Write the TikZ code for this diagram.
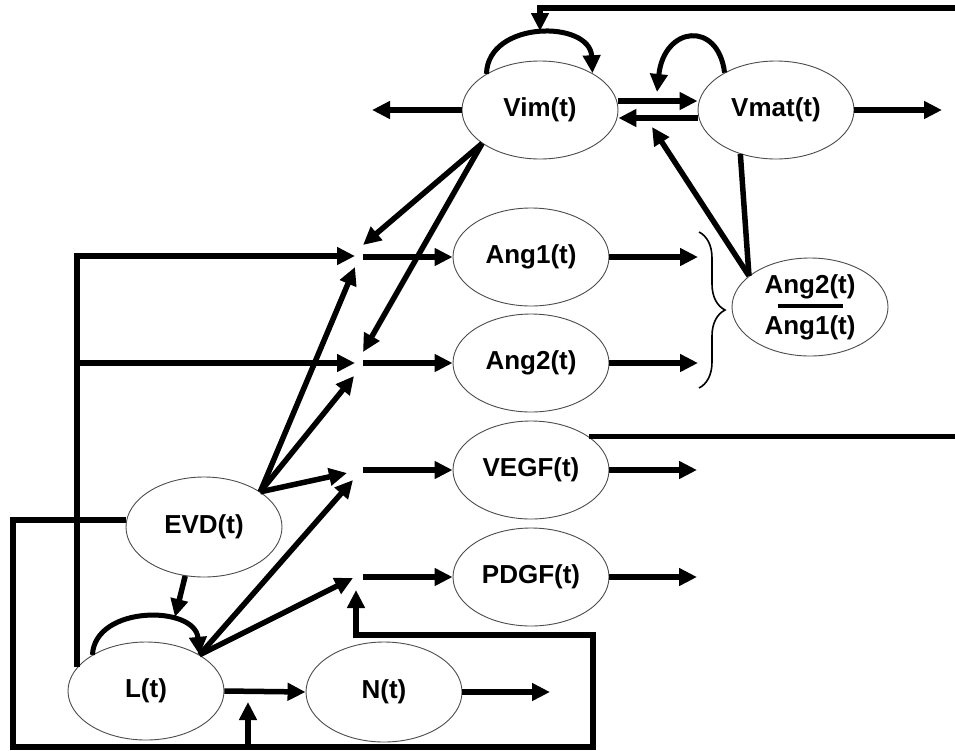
\documentclass[tikz,border=0pt]{standalone}
\usepackage{fontspec}
\setmainfont{Liberation Sans}
\usetikzlibrary{arrows.meta,shapes.geometric,decorations.pathreplacing,calc}
\begin{document}
\begin{tikzpicture}[x=1pt,y=-1pt,
  ell/.style={ellipse, draw=black!70, line width=0.9pt, minimum width=156pt, minimum height=98pt, inner sep=0pt, font=\fontsize{26}{30}\selectfont\bfseries},
  arr/.style={line width=5.5pt, -{Triangle[length=18pt,width=17pt]}},
  ln/.style={line width=5.5pt},
  selfarr/.style={line width=5pt, -{Triangle[length=18pt,width=17pt]}},
  bracestyle/.style={line width=1.6pt, decorate, decoration={brace, amplitude=26pt}}]
\useasboundingbox (0,0) rectangle (955,750);
\fill[white] (0,0) rectangle (955,750);

% nodes
\node[ell] (vim)  at (540,110) {Vim(t)};
\node[ell] (vmat) at (776,110) {Vmat(t)};
\node[ell] (ang1) at (531,257) {Ang1(t)};
\node[ell] (ang2) at (531,363) {Ang2(t)};
\node[ell] (vegf) at (531,470) {VEGF(t)};
\node[ell] (pdgf) at (531,577) {PDGF(t)};
\node[ell, minimum height=100pt] (evd) at (204,527) {EVD(t)};
\node[ell] (l) at (146,691) {L(t)};
\node[ell, minimum height=100pt] (n) at (384,692) {N(t)};
\node[ell, align=center, font=\fontsize{26}{41}\selectfont\bfseries] (ratio) at (810,307)
  {Ang2(t)\\[-26.5pt]\rule{65pt}{4pt}\\[-14.5pt]Ang1(t)};

% junction coordinates
\coordinate (j1l) at (355,256); \coordinate (j1a) at (363,245); \coordinate (j1b) at (355,267); \coordinate (j1r) at (363,257);
\coordinate (j2l) at (355,363); \coordinate (j2a) at (363,352); \coordinate (j2b) at (354,376); \coordinate (j2r) at (363,363);
\coordinate (j3a) at (347,473); \coordinate (j3b) at (353,480); \coordinate (j3r) at (363,470);
\coordinate (j4a) at (353,578); \coordinate (j4b) at (356,590); \coordinate (j4r) at (363,577);

% free ends
\coordinate (vimout) at (372,110);
\coordinate (vmatout) at (942,110);
\coordinate (topR) at (955,8);
\coordinate (topT) at (540,31);
\coordinate (vmattip) at (657,92);
\coordinate (ratiotip) at (652,127);
\coordinate (ang1out) at (698,257);
\coordinate (ang2out) at (698,363);
\coordinate (vegfout) at (697,470);
\coordinate (pdgfout) at (697,577);
\coordinate (vegfend) at (955,437);
\coordinate (evdtip) at (175,617);
\coordinate (nout) at (550,692);
\coordinate (bl) at (13,747);
\coordinate (br) at (593,747);
\coordinate (bt) at (593,635);
\coordinate (upb) at (248,747);
\coordinate (upt) at (248,702);
\coordinate (bracetop) at (699,232);
\coordinate (bracebot) at (699,388);

% Vim / Vmat
\draw[arr] (vim.west) -- (vimout);
\draw[arr] (vmat.east) -- (vmatout);
\draw[arr] ([yshift=9pt]vim.east) -- ([yshift=9pt]vmat.west);
\draw[arr] ([yshift=-8pt]vmat.west) -- ([yshift=-8pt]vim.east);
\draw[arr] (topR) -- (topR -| topT) -- (topT);
\draw[selfarr] (vim.146) .. controls (488,20) and (590,20) .. (vim.35);
\draw[selfarr] (vmat.144) .. controls (718,20) and (664,26) .. (vmattip);
\draw[arr] (ratio.153) -- (ratiotip);
\draw[ln] (ratio.153) -- (vmat.231);

% Vim to junctions
\draw[arr] (vim.210) -- (j1a);
\draw[arr] (vim.210) -- (j2a);

% EVD to junctions
\draw[arr] (evd.32) -- (j1b);
\draw[arr] (evd.32) -- (j2b);
\draw[arr] (evd.32) -- (j3a);
\draw[arr] (evd.249) -- (evdtip);

% L
\draw[selfarr] (l.146) .. controls (95,605) and (195,605) .. (l.34);
\draw[arr] (l.34) -- (j3b);
\draw[arr] (l.34) -- (j4a);
\draw[arr] (l.161) -- (l.161 |- j1l) -- (j1l);
\draw[arr] (l.161 |- j2l) -- (j2l);
\draw[arr] (l.east) -- (n.west);
\draw[arr] (n.east) -- (nout);

% junctions to targets
\draw[arr] (j1r) -- (ang1.west);
\draw[arr] (j2r) -- (ang2.west);
\draw[arr] (j3r) -- (vegf.west);
\draw[arr] (j4r) -- (pdgf.west);

% outputs
\draw[arr] (ang1.east) -- (ang1out);
\draw[arr] (ang2.east) -- (ang2out);
\draw[arr] (vegf.east) -- (vegfout);
\draw[arr] (pdgf.east) -- (pdgfout);
\draw[ln] (vegf.30) -- (vegf.30 -| vegfend);

% brace
\draw[bracestyle] (bracetop) -- (bracebot);

% bottom feedback
\draw[arr] ([yshift=7pt]evd.west) -| (bl) -- (br) -- (bt) -| (j4b);
\draw[arr] (upb) -- (upt);
\end{tikzpicture}
\end{document}
